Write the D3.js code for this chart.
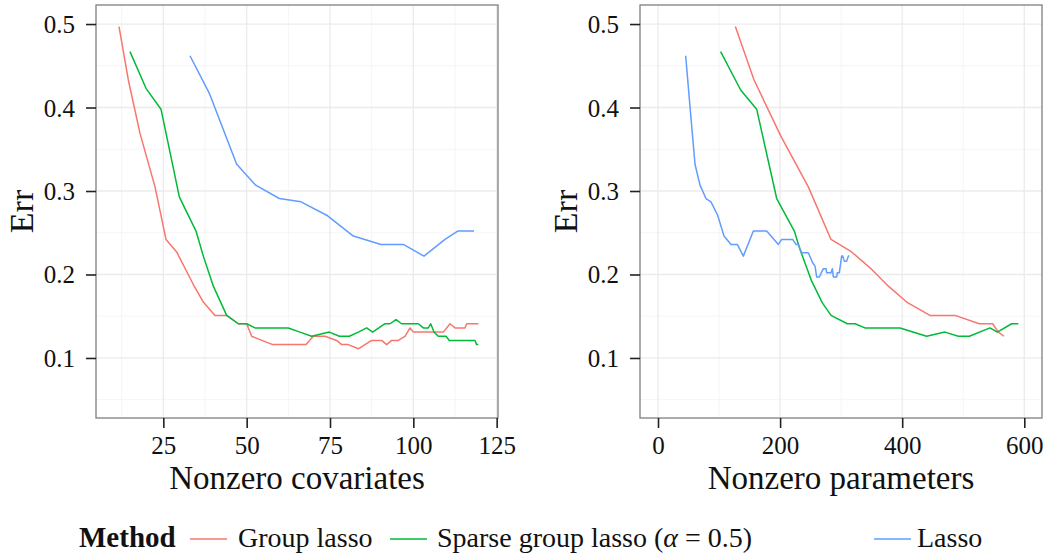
<!DOCTYPE html>
<html><head><meta charset="utf-8">
<script src="https://cdn.jsdelivr.net/npm/d3@7/dist/d3.min.js"></script>
<style>html,body{margin:0;padding:0;background:#fff;} svg{display:block;}</style>
</head><body>
<svg id="chart" width="1046" height="557"></svg>
<script>
// ---------------- data ----------------
const methods = ["Group lasso", "Sparse group lasso", "Lasso"];
const colors = ["#F8766D", "#00BA38", "#619CFF"];

// Left panel: Nonzero covariates
const leftGroupX = [11.7,14.5,18,22.5,25.8,29,34,37,40.5,44,47.5,50,51.5,57.8,67.8,70,73.5,77,78.5,80.5,83.5,87.5,90.5,92,93.5,95.5,97.5,99,100,109,111,112.5,115.5,116,119.5];
const leftGroupY = [0.497,0.433,0.369,0.305,0.242,0.227,0.188,0.167,0.151,0.151,0.141,0.141,0.126,0.116,0.116,0.126,0.126,0.121,0.116,0.116,0.111,0.121,0.121,0.116,0.121,0.121,0.126,0.136,0.131,0.131,0.141,0.136,0.136,0.141,0.141];
const leftSparseX = [15,19.8,24.3,29.8,34.8,37,40,44,47.5,50,52.5,62.5,66,69.5,74.8,77.8,80.8,83.5,86,87.8,91.5,93,94.8,96.5,101.5,103,104.5,105.2,106.2,107.5,109.8,110.8,118.5,119,119.5];
const leftSparseY = [0.467,0.423,0.398,0.293,0.252,0.222,0.186,0.151,0.141,0.141,0.136,0.136,0.131,0.126,0.131,0.126,0.126,0.131,0.136,0.131,0.141,0.141,0.146,0.141,0.141,0.136,0.136,0.141,0.131,0.126,0.126,0.121,0.121,0.116,0.116];
const leftLassoX = [33,38.8,47,52.7,59.8,66.3,74,82,90.3,97,103.2,109.5,113.3,118.2];
const leftLassoY = [0.462,0.417,0.332,0.307,0.291,0.287,0.271,0.246,0.236,0.236,0.222,0.242,0.252,0.252];

// Right panel: Nonzero parameters
const rightGroupX = [126.7,157.3,201,246.2,283.4,317.2,347.3,377.3,407.3,445.5,486.5,526.3,548.2,557.5,566.7];
const rightGroupY = [0.497,0.433,0.366,0.305,0.242,0.227,0.208,0.186,0.167,0.151,0.151,0.141,0.141,0.131,0.126];
const rightSparseX = [102.6,135.4,161.6,194.4,223.3,232.6,251.7,269.2,283.4,310,322.7,339,396.4,440,470,492,510,543.8,555.8,579.3,590.2];
const rightSparseY = [0.467,0.421,0.398,0.291,0.252,0.230,0.192,0.166,0.151,0.141,0.141,0.136,0.136,0.126,0.131,0.126,0.126,0.136,0.131,0.141,0.141];
const rightLassoX = [45.3,52.4,60.6,68.8,78.6,86.8,97.7,108.1,119.6,129.9,139.8,156.2,178,197.1,202.6,220.6,226,229.9,235.3,246.2,253.3,257.2,259.9,264.3,270.8,275.2,276.3,283.4,285.6,287.2,292.7,293.7,297,300.8,302.5,305.2,309,311.8,313.4];
const rightLassoY = [0.462,0.401,0.332,0.307,0.291,0.287,0.271,0.246,0.236,0.236,0.222,0.252,0.252,0.236,0.242,0.242,0.236,0.236,0.226,0.226,0.214,0.210,0.197,0.197,0.207,0.207,0.202,0.202,0.207,0.197,0.197,0.202,0.202,0.222,0.222,0.216,0.216,0.222,0.222];

const leftTicks = [25, 50, 75, 100, 125];
const rightTicks = [0, 200, 400, 600];
const yTicks = [0.1, 0.2, 0.3, 0.4, 0.5];
const leftMinor = [12.5, 37.5, 62.5, 87.5, 112.5];
const rightMinor = [100, 300, 500];
const yMinor = [0.05, 0.15, 0.25, 0.35, 0.45];

// ---------------- drawing ----------------
const svg = d3.select("#chart");
const FONT = "'Liberation Serif', 'Times New Roman', serif";
const zip = (xs, ys) => xs.map((x, i) => ({x, y: ys[i]}));

const panels = [
  {x0: 96, x1: 498, dom: [4.8, 125.4], ticks: leftTicks, minor: leftMinor, title: "Nonzero covariates", errX: 22,
   series: [zip(leftGroupX, leftGroupY), zip(leftSparseX, leftSparseY), zip(leftLassoX, leftLassoY)]},
  {x0: 640, x1: 1042, dom: [-29.5, 629], ticks: rightTicks, minor: rightMinor, title: "Nonzero parameters", errX: 566,
   series: [zip(rightGroupX, rightGroupY), zip(rightSparseX, rightSparseY), zip(rightLassoX, rightLassoY)]}
];
const yTop = 5, yBot = 418;
const y = d3.scaleLinear().domain([0.0281, 0.5228]).range([yBot, yTop]);

panels.forEach(p => {
  const x = d3.scaleLinear().domain(p.dom).range([p.x0, p.x1]);
  const g = svg.append("g");
  g.append("rect").attr("x", p.x0).attr("y", yTop).attr("width", p.x1 - p.x0).attr("height", yBot - yTop).attr("fill", "#fff");
  // minor grid
  g.selectAll(".mx").data(p.minor).join("line")
    .attr("x1", d => x(d)).attr("x2", d => x(d)).attr("y1", yTop).attr("y2", yBot)
    .attr("stroke", "#f5f5f5").attr("stroke-width", 1);
  g.selectAll(".my").data(yMinor).join("line")
    .attr("y1", d => y(d)).attr("y2", d => y(d)).attr("x1", p.x0).attr("x2", p.x1)
    .attr("stroke", "#f5f5f5").attr("stroke-width", 1);
  // major grid
  g.selectAll(".gx").data(p.ticks).join("line")
    .attr("x1", d => x(d)).attr("x2", d => x(d)).attr("y1", yTop).attr("y2", yBot)
    .attr("stroke", "#ebebeb").attr("stroke-width", 1.3);
  g.selectAll(".gy").data(yTicks).join("line")
    .attr("y1", d => y(d)).attr("y2", d => y(d)).attr("x1", p.x0).attr("x2", p.x1)
    .attr("stroke", "#ebebeb").attr("stroke-width", 1.3);
  // lines
  const line = d3.line().x(d => x(d.x)).y(d => y(d.y));
  p.series.forEach((s, i) => {
    g.append("path").datum(s).attr("d", line).attr("fill", "none")
      .attr("stroke", colors[i]).attr("stroke-width", 1.5).attr("stroke-linejoin", "round");
  });
  // border
  g.append("rect").attr("x", p.x0).attr("y", yTop).attr("width", p.x1 - p.x0).attr("height", yBot - yTop)
    .attr("fill", "none").attr("stroke", "#7f7f7f").attr("stroke-width", 1.3);
  // axes
  const xAxis = d3.axisBottom(x).tickValues(p.ticks).tickSize(10).tickPadding(8).tickFormat(d3.format("d"));
  const ax = svg.append("g").attr("transform", `translate(0,${yBot})`).call(xAxis);
  ax.select(".domain").remove();
  ax.selectAll(".tick line").attr("stroke", "#222").attr("stroke-width", 1.6);
  ax.selectAll(".tick text").attr("font-family", FONT).attr("font-size", 25).attr("fill", "#111").attr("dy", "0.72em");
  const yAxis = d3.axisLeft(y).tickValues(yTicks).tickSize(10).tickPadding(11).tickFormat(d3.format(".1f"));
  const ay = svg.append("g").attr("transform", `translate(${p.x0},0)`).call(yAxis);
  ay.select(".domain").remove();
  ay.selectAll(".tick line").attr("stroke", "#222").attr("stroke-width", 1.6);
  ay.selectAll(".tick text").attr("font-family", FONT).attr("font-size", 25).attr("fill", "#111").attr("dy", "0.34em");
  // titles
  svg.append("text").attr("x", (p.x0 + p.x1) / 2).attr("y", 489).attr("text-anchor", "middle")
    .attr("font-family", FONT).attr("font-size", 33).attr("fill", "#111").text(p.title);
  svg.append("text").attr("transform", `translate(${p.errX + 11},${(yTop + yBot) / 2}) rotate(-90)`)
    .attr("text-anchor", "middle").attr("font-family", FONT).attr("font-size", 34).attr("fill", "#111").text("Err");
});

// ---------------- legend ----------------
const lg = svg.append("g");
const ly = 547;
lg.append("text").attr("x", 79).attr("y", ly).attr("font-family", FONT).attr("font-size", 29)
  .attr("font-weight", "bold").attr("fill", "#111").text("Method");
const items = [
  {k0: 190, k1: 227, tx: 238},
  {k0: 390, k1: 427, tx: 437},
  {k0: 874, k1: 911, tx: 917}
];
items.forEach((it, i) => {
  lg.append("line").attr("x1", it.k0).attr("x2", it.k1).attr("y1", 539).attr("y2", 539)
    .attr("stroke", colors[i]).attr("stroke-width", 1.5);
  const t = lg.append("text").attr("x", it.tx).attr("y", ly).attr("font-family", FONT)
    .attr("font-size", 28).attr("fill", "#111");
  if (i === 1) {
    t.append("tspan").text("Sparse group lasso (");
    t.append("tspan").attr("font-style", "italic").text("α");
    t.append("tspan").text(" = 0.5)");
  } else {
    t.text(methods[i]);
  }
});
</script>
</body></html>
